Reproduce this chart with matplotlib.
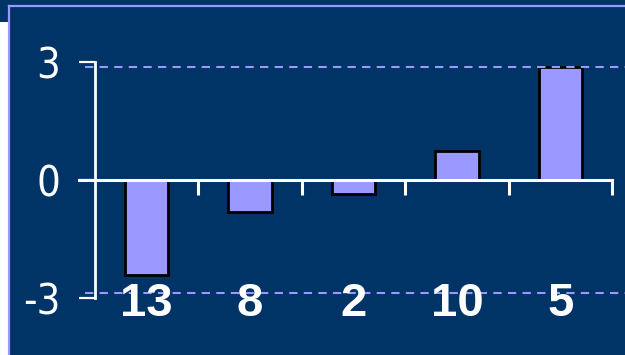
import matplotlib
matplotlib.use("Agg")
import matplotlib.pyplot as plt
from matplotlib.patches import Rectangle
from matplotlib.lines import Line2D
import matplotlib.transforms as mtransforms
from matplotlib import font_manager

categories = ["13", "8", "2", "10", "5"]
values = [-2.5, -0.85, -0.37, 0.77, 3.0]
ytick_values = [-3.12, 0, 3.12]
ytick_labels = ["-3", "0", "3"]
grid_values = [-3, 3]

navy = "#003366"
lavender = "#9999ff"
bar_color = "#9999ff"

W, H = 625, 355
fig = plt.figure(figsize=(W / 100, H / 100), dpi=100, facecolor=navy)

# white strip and lavender panel border (pixel coords -> figure fraction)
fig.patches.append(Rectangle((0, 0), 8 / W, (H - 22) / H, transform=fig.transFigure,
                             facecolor="white", edgecolor="none", zorder=0))
fig.lines.append(Line2D([9 / W, 9 / W], [0, (H - 6) / H], transform=fig.transFigure,
                        color=lavender, lw=1.6))
fig.lines.append(Line2D([9 / W, 1], [(H - 6) / H, (H - 6) / H], transform=fig.transFigure,
                        color=lavender, lw=1.6))

ax_left, ax_top, ax_bottom, ax_right = 95, 62, 298, 625
ax = fig.add_axes([ax_left / W, 1 - ax_bottom / H, (ax_right - ax_left) / W,
                   (ax_bottom - ax_top) / H])
ax.set_facecolor("none")

slot = 103.4  # px per category
n = len(categories)
ax.set_xlim(-0.5, -0.5 + (ax_right - ax_left) / slot)
ax.set_ylim(-3.12, 3.12)

x = list(range(n))
ax.bar(x, values, width=0.42, color=bar_color, edgecolor="black", linewidth=2.0, zorder=2)

# dashed gridlines
for g in grid_values:
    ax.axhline(g, xmin=-10 / (ax_right - ax_left), xmax=1, color=lavender, lw=1.5,
               linestyle=(0, (4, 3)), clip_on=False, zorder=3)

# spines
for s in ["top", "right", "bottom"]:
    ax.spines[s].set_visible(False)
ax.spines["left"].set_color("white")
ax.spines["left"].set_linewidth(2.0)
ax.spines["left"].set_bounds(-3.12, 3.12)
ax.spines["left"].set_zorder(4)

# zero line with category-boundary ticks
ax.axhline(0, xmin=-16 / (ax_right - ax_left), xmax=(n * slot) / (ax_right - ax_left),
           color="white", lw=2.2, clip_on=False, zorder=4)
ax.vlines([i + 0.5 for i in range(n)], -15 / 37.8, 0, color="white", lw=2.2, zorder=4)

narrow = font_manager.FontProperties(family="DejaVu Sans", stretch="condensed",
                                     weight="light", size=30)
ax.set_yticks(ytick_values)
ax.set_yticklabels(ytick_labels, fontproperties=narrow, color="white")
ax.tick_params(axis="y", direction="out", length=11.5, width=1.6, color="white", pad=13.5)
ax.set_xticks([])

trans = mtransforms.blended_transform_factory(ax.transData, ax.transData)
for xi, lab in zip(x, categories):
    ax.text(xi, -3.27, lab, transform=trans, ha="center", va="center", color="white",
            fontsize=34, fontweight="bold", family=["Liberation Sans", "DejaVu Sans"],
            zorder=5)

fig.savefig("out.png", dpi=100, facecolor=navy)
